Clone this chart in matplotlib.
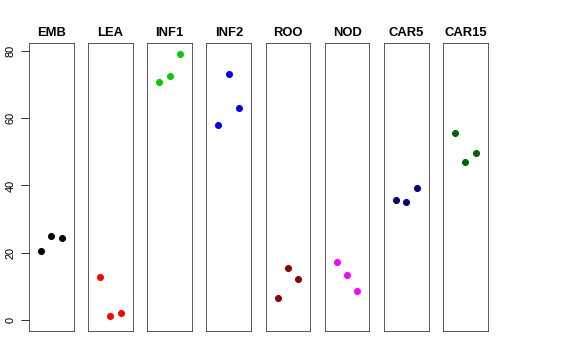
import matplotlib
matplotlib.use('Agg')
import matplotlib.pyplot as plt

plt.rcParams['font.family'] = ['Liberation Sans', 'DejaVu Sans']

groups = ['EMB', 'LEA', 'INF1', 'INF2', 'ROO', 'NOD', 'CAR5', 'CAR15']
colors = ['black', 'red', '#00CD00', 'blue', '#8B0000', 'magenta', '#000080', '#006400']
reps = [1, 2, 3]
values = [
    [20.6, 24.9, 24.5],
    [12.9, 1.3, 2.0],
    [70.8, 72.6, 79.1],
    [58.0, 73.1, 63.1],
    [6.7, 15.6, 12.2],
    [17.4, 13.5, 8.6],
    [35.8, 35.2, 39.2],
    [55.6, 46.9, 49.6],
]
yticks = [0, 20, 40, 60, 80]

fig, axes = plt.subplots(1, 8, sharey=True, figsize=(8, 5), dpi=72)
fig.subplots_adjust(left=0.0503, right=0.8467, top=0.8806, bottom=0.0806, wspace=0.324)

for ax, name, col, vals in zip(axes, groups, colors, values):
    ax.plot(reps, vals, 'o', color=col, markersize=6, linestyle='none')
    ax.set_xlim(-0.16, 4.16)
    ax.set_ylim(-3.2, 82.3)
    ax.set_xticks([])
    ax.set_title(name, fontsize=13, fontweight='bold', pad=7)
    for s in ax.spines.values():
        s.set_linewidth(0.8)
        s.set_color('#333333')
    ax.tick_params(axis='y', left=False, labelleft=False)

ax0 = axes[0]
ax0.set_yticks(yticks)
ax0.tick_params(axis='y', left=True, labelleft=True, length=8, width=0.8,
                labelsize=11, pad=5)
for lab in ax0.get_yticklabels():
    lab.set_rotation(90)
    lab.set_va('center')

fig.savefig('out.png', dpi=72)
